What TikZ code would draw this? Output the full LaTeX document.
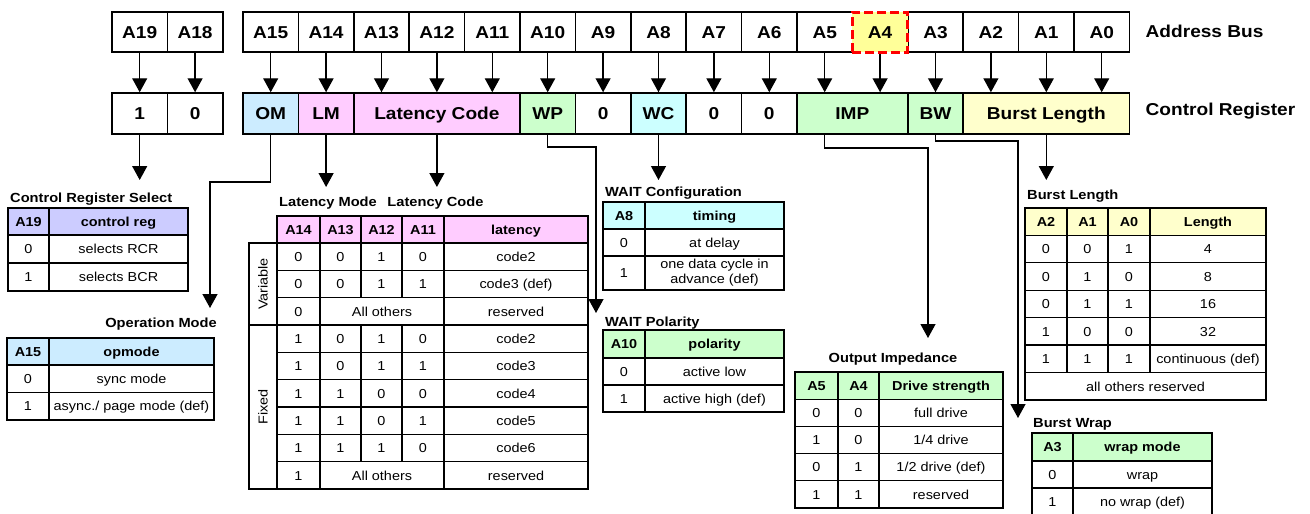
\documentclass[tikz,border=0pt]{standalone}
\usepackage{fontspec}
\setmainfont{Liberation Sans}[FakeStretch=1.11]
\usetikzlibrary{arrows.meta}
\definecolor{lavender}{HTML}{CCCCFF}
\definecolor{skyblue}{HTML}{CCECFF}
\definecolor{pinkish}{HTML}{FFCCFF}
\definecolor{mintgreen}{HTML}{CCFFCC}
\definecolor{palecyan}{HTML}{CCFFFF}
\definecolor{paleyellow}{HTML}{FFFFCC}
\definecolor{hiyellow}{HTML}{FFFF99}
% table cell: name, x left, x right, y top, y bottom, style, text
\newcommand{\tabcell}[7]{\node[#6, minimum width={(#3)-(#2)}, minimum height={(#5)-(#4)}] (#1) at ({((#2)+(#3))/2},{((#4)+(#5))/2}) {#7};}
\begin{document}
\begin{tikzpicture}[x=1pt, y=-1pt,
  bit/.style={draw, line width=1.5pt, minimum width=55.4pt, minimum height=40pt, inner sep=0pt, text height=12.3pt, text depth=0pt, font=\bfseries\fontsize{17.2}{20}\selectfont},
  reg/.style={bit, minimum height=41pt},
  hot/.style={draw=red, fill=hiyellow, line width=3pt, dash pattern=on 9pt off 4pt},
  tc/.style={draw, line width=1.3pt, inner sep=0pt, align=center, text height=9.4pt, text depth=0pt, font=\fontsize{13}{15}\selectfont},
  th/.style={tc, font=\bfseries\fontsize{13}{15}\selectfont},
  free/.style={text height=, text depth=},
  ttl/.style={inner sep=0pt, anchor=base west, font=\bfseries\fontsize{13.2}{15}\selectfont},
  lbl/.style={inner sep=0pt, anchor=base west, font=\bfseries\fontsize{17.2}{20}\selectfont},
  arr/.style={line width=1.3pt, -{Triangle[width=15pt, length=14pt]}}]
\useasboundingbox (0,0) rectangle (1310,514);

% address bus
\node[bit] (a19) at (139.7,32) {A19};
\node[bit] (a18) at (195.1,32) {A18};
\foreach \b [count=\i from 0] in {15,14,...,5} \node[bit] (a\b) at ({270.7+55.4*\i},32) {A\b};
\foreach \b [count=\i from 12] in {3,2,1,0} \node[bit] (a\b) at ({270.7+55.4*\i},32) {A\b};
\node[bit, hot] (a4) at (880.1,32) {A4}; % highlighted bit
\node[lbl] (busl) at (1145.5,37.3) {Address Bus};

% control register
\node[reg] (r19) at (139.7,113.5) {1};
\node[reg] (r18) at (195.1,113.5) {0};
\node[reg, fill=skyblue] (om) at (270.7,113.5) {OM};
\node[reg, fill=pinkish] (lm) at (326.1,113.5) {LM};
\node[reg, fill=pinkish, minimum width=166.2pt] (lcode) at (436.9,113.5) {Latency Code};
\node[reg, fill=mintgreen] (wp) at (547.7,113.5) {WP};
\node[reg] (r9) at (603.1,113.5) {0};
\node[reg, fill=palecyan] (wc) at (658.5,113.5) {WC};
\node[reg] (r7) at (713.9,113.5) {0};
\node[reg] (r6) at (769.3,113.5) {0};
\node[reg, fill=mintgreen, minimum width=110.8pt] (imp) at (852.4,113.5) {IMP};
\node[reg, fill=mintgreen] (bw) at (935.5,113.5) {BW};
\node[reg, fill=paleyellow, minimum width=166.2pt] (blen) at (1046.3,113.5) {Burst Length};
\node[lbl] (regl) at (1145.5,115) {Control Register};

% bus -> register
\foreach \a/\r in {a19/r19, a18/r18, a15/om, a14/lm, a13/lcode, a12/lcode, a11/lcode, a10/wp, a9/r9, a8/wc, a7/r7, a6/r6, a5/imp, a4/imp, a3/bw, a2/blen, a1/blen, a0/blen}
  \draw[arr] (\a.south) -- (\a.south |- \r.north);

% register -> tables
\coordinate (crs-in) at (139.7,180);
\coordinate (omturn) at (210,182);
\coordinate (opm-in) at (210,308);
\coordinate (lat-in1) at (326.1,187);
\coordinate (lat-in2) at (436.9,187);
\coordinate (wpturn) at (596,147);
\coordinate (wpl-in) at (596,313);
\coordinate (wcf-in) at (658.5,180);
\coordinate (impturn) at (928,148);
\coordinate (oim-in) at (928,338);
\coordinate (bwturn) at (1018,141);
\coordinate (bwr-in) at (1018,418);
\coordinate (bln-in) at (1046.3,180);
\draw[arr] (r19) -- (crs-in);
\draw[arr] (om.south) |- (omturn) -- (opm-in);
\draw[arr] (lm) -- (lat-in1);
\draw[arr] (lcode) -- (lat-in2);
\draw[arr] (wp.south) |- (wpturn) -- (wpl-in);
\draw[arr] (wc) -- (wcf-in);
\draw[arr] (a5 |- imp.south) |- (impturn) -- (oim-in);
\draw[arr] (bw.south) |- (bwturn) -- (bwr-in);
\draw[arr] (blen) -- (bln-in);

% control register select
\node[ttl] (crs) at (10,202.7) {Control Register Select};
\tabcell{crs-h1}{8}{49}{208}{235}{th, fill=lavender}{A19}
\tabcell{crs-h2}{49}{188}{208}{235}{th, fill=lavender}{control reg}
\tabcell{crs-11}{8}{49}{235}{263}{tc}{0}
\tabcell{crs-12}{49}{188}{235}{263}{tc}{selects RCR}
\tabcell{crs-21}{8}{49}{263}{291}{tc}{1}
\tabcell{crs-22}{49}{188}{263}{291}{tc}{selects BCR}

% operation mode
\node[ttl, anchor=base east] (opm) at (217,327.7) {Operation Mode};
\tabcell{opm-h1}{7}{49}{338}{365}{th, fill=skyblue}{A15}
\tabcell{opm-h2}{49}{214}{338}{365}{th, fill=skyblue}{opmode}
\tabcell{opm-11}{7}{49}{365}{392.5}{tc}{0}
\tabcell{opm-12}{49}{214}{365}{392.5}{tc}{sync mode}
\tabcell{opm-21}{7}{49}{392.5}{420}{tc}{1}
\tabcell{opm-22}{49}{214}{392.5}{420}{tc}{async./ page mode (def)}

% latency mode / latency code
\node[ttl, anchor=base] (lat-t1) at (328,206.7) {Latency Mode};
\node[ttl, anchor=base] (lat-t2) at (435.5,206.7) {Latency Code};
\tabcell{lat-h1}{277}{320}{216}{243}{th, fill=pinkish}{A14}
\tabcell{lat-h2}{320}{361}{216}{243}{th, fill=pinkish}{A13}
\tabcell{lat-h3}{361}{402}{216}{243}{th, fill=pinkish}{A12}
\tabcell{lat-h4}{402}{444}{216}{243}{th, fill=pinkish}{A11}
\tabcell{lat-h5}{444}{588}{216}{243}{th, fill=pinkish}{latency}
\foreach \r/\xa/\xb/\xc/\xd/\xl in {1/0/0/1/0/code2, 2/0/0/1/1/code3 (def), 4/1/0/1/0/code2, 5/1/0/1/1/code3, 6/1/1/0/0/code4, 7/1/1/0/1/code5, 8/1/1/1/0/code6} {
  \pgfmathsetmacro\yt{243+27.33*(\r-1)}
  \pgfmathsetmacro\yb{\yt+27.33}
  \tabcell{lat-\r1}{277}{320}{\yt}{\yb}{tc}{\xa}
  \tabcell{lat-\r2}{320}{361}{\yt}{\yb}{tc}{\xb}
  \tabcell{lat-\r3}{361}{402}{\yt}{\yb}{tc}{\xc}
  \tabcell{lat-\r4}{402}{444}{\yt}{\yb}{tc}{\xd}
  \tabcell{lat-\r5}{444}{588}{\yt}{\yb}{tc}{\xl}
}
\tabcell{lat-31}{277}{320}{297.66}{325}{tc}{0}
\tabcell{lat-32}{320}{444}{297.66}{325}{tc}{All others}
\tabcell{lat-35}{444}{588}{297.66}{325}{tc}{reserved}
\tabcell{lat-91}{277}{320}{461.64}{489}{tc}{1}
\tabcell{lat-92}{320}{444}{461.64}{489}{tc}{All others}
\tabcell{lat-95}{444}{588}{461.64}{489}{tc}{reserved}
\tabcell{lat-var}{249}{277}{243}{325}{tc, free}{\rotatebox{90}{Variable}}
\tabcell{lat-fix}{249}{277}{325}{489}{tc, free}{\rotatebox{90}{Fixed}}

% wait configuration
\node[ttl] (wcf) at (605,196.2) {WAIT Configuration};
\tabcell{wcf-h1}{603}{645}{202}{229}{th, fill=palecyan}{A8}
\tabcell{wcf-h2}{645}{784}{202}{229}{th, fill=palecyan}{timing}
\tabcell{wcf-11}{603}{645}{229}{256}{tc}{0}
\tabcell{wcf-12}{645}{784}{229}{256}{tc}{at delay}
\tabcell{wcf-21}{603}{645}{256}{290}{tc}{1}
\tabcell{wcf-22}{645}{784}{256}{290}{tc, free}{one data cycle in\\advance (def)}

% wait polarity
\node[ttl] (wpl) at (605,326.7) {WAIT Polarity};
\tabcell{wpl-h1}{603}{645}{330}{358}{th, fill=mintgreen}{A10}
\tabcell{wpl-h2}{645}{784}{330}{358}{th, fill=mintgreen}{polarity}
\tabcell{wpl-11}{603}{645}{358}{385}{tc}{0}
\tabcell{wpl-12}{645}{784}{358}{385}{tc}{active low}
\tabcell{wpl-21}{603}{645}{385}{412}{tc}{1}
\tabcell{wpl-22}{645}{784}{385}{412}{tc}{active high (def)}

% output impedance
\node[ttl, anchor=base] (oim) at (893,362.7) {Output Impedance};
\tabcell{oim-h1}{795}{838}{372}{399.2}{th, fill=mintgreen}{A5}
\tabcell{oim-h2}{838}{879}{372}{399.2}{th, fill=mintgreen}{A4}
\tabcell{oim-h3}{879}{1003}{372}{399.2}{th, fill=mintgreen}{Drive strength}
\foreach \r/\xa/\xb/\xl in {1/0/0/full drive, 2/1/0/{1/4 drive}, 3/0/1/{1/2 drive (def)}, 4/1/1/reserved} {
  \pgfmathsetmacro\yt{399.2+27.2*(\r-1)}
  \pgfmathsetmacro\yb{\yt+27.2}
  \tabcell{oim-\r1}{795}{838}{\yt}{\yb}{tc}{\xa}
  \tabcell{oim-\r2}{838}{879}{\yt}{\yb}{tc}{\xb}
  \tabcell{oim-\r3}{879}{1003}{\yt}{\yb}{tc}{\xl}
}

% burst length
\node[ttl] (bln) at (1027,199.7) {Burst Length};
\tabcell{bln-h1}{1025}{1067}{208}{235.4}{th, fill=paleyellow}{A2}
\tabcell{bln-h2}{1067}{1108}{208}{235.4}{th, fill=paleyellow}{A1}
\tabcell{bln-h3}{1108}{1150}{208}{235.4}{th, fill=paleyellow}{A0}
\tabcell{bln-h4}{1150}{1266}{208}{235.4}{th, fill=paleyellow}{Length}
\foreach \r/\xa/\xb/\xc/\xl in {1/0/0/1/4, 2/0/1/0/8, 3/0/1/1/16, 4/1/0/0/32, 5/1/1/1/continuous (def)} {
  \pgfmathsetmacro\yt{235.4+27.43*(\r-1)}
  \pgfmathsetmacro\yb{\yt+27.43}
  \tabcell{bln-\r1}{1025}{1067}{\yt}{\yb}{tc}{\xa}
  \tabcell{bln-\r2}{1067}{1108}{\yt}{\yb}{tc}{\xb}
  \tabcell{bln-\r3}{1108}{1150}{\yt}{\yb}{tc}{\xc}
  \tabcell{bln-\r4}{1150}{1266}{\yt}{\yb}{tc}{\xl}
}
\tabcell{bln-6}{1025}{1266}{372.6}{400}{tc}{all others reserved}

% burst wrap
\node[ttl] (bwr) at (1033,427.7) {Burst Wrap};
\tabcell{bwr-h1}{1032}{1073}{433}{461}{th, fill=mintgreen}{A3}
\tabcell{bwr-h2}{1073}{1212}{433}{461}{th, fill=mintgreen}{wrap mode}
\tabcell{bwr-11}{1032}{1073}{461}{488}{tc}{0}
\tabcell{bwr-12}{1073}{1212}{461}{488}{tc}{wrap}
\tabcell{bwr-21}{1032}{1073}{488}{515}{tc}{1}
\tabcell{bwr-22}{1073}{1212}{488}{515}{tc}{no wrap (def)}
\end{tikzpicture}
\end{document}
